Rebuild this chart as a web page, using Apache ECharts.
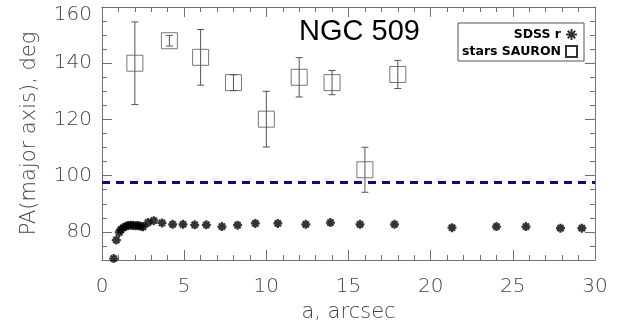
<!DOCTYPE html>
<html>
<head>
<meta charset="utf-8">
<script src="https://cdn.jsdelivr.net/npm/echarts@6/dist/echarts.min.js"></script>
<style>
html,body{margin:0;padding:0;background:#fff;}
#c{width:629px;height:329px;}
</style>
</head>
<body>
<div id="c"></div>
<script>
// ---- data ----
const sdssA  = [0.71,0.87,1.05,1.15,1.3,1.45,1.6,1.75,1.9,2.05,2.2,2.35,2.5,2.8,3.15,3.65,4.3,4.93,5.64,6.35,7.3,8.25,9.33,10.7,12.4,13.9,15.7,17.8,21.3,24.0,25.8,27.9,29.2];
const sdssPA = [70.5,77.1,79.8,80.8,81.5,82.0,82.3,82.4,82.3,82.2,82.3,82.0,81.8,83.3,84.0,83.2,82.7,82.7,82.5,82.5,81.9,82.4,83.0,83.0,82.7,83.3,82.7,82.7,81.5,81.9,81.9,81.3,81.3];
const sauronA   = [2.0, 4.1, 6.0, 8.0, 10.0, 12.0, 14.0, 16.0, 18.0];
const sauronPA  = [140.0, 148.0, 142.1, 133.1, 120.1, 135.0, 133.1, 102.1, 136.0];
const sauronErr = [14.7, 1.9, 9.9, 2.8, 9.9, 7.0, 4.3, 8.0, 5.0];
const dashedPA = [97.6];
const yLabelValues = [80, 100, 120, 140, 160];
const xTickInterval = 5;
const titleText = 'NGC 509';
const xName = 'a, arcsec';
const yName = 'PA(major axis), deg';

const AX = '#707070';
const LAB = '#444';
const FONT = 'DejaVu Sans';
const asterisk = 'path://M5,0L5,10M0,5L10,5M1.6,1.6L8.4,8.4M1.6,8.4L8.4,1.6';

const chart = echarts.init(document.getElementById('c'), null, {renderer:'canvas'});

const labelStyle = {color: LAB, fontFamily: FONT, fontSize: 20, fontWeight: 200};

function xAx(pos, showLabel) {
  return {
    type: 'value', position: pos, min: 0, max: 30, interval: xTickInterval,
    axisLine: {show: true, onZero: false, lineStyle: {color: AX, width: 1}},
    axisTick: {show: true, inside: true, length: 10, lineStyle: {color: AX}},
    minorTick: {show: true, splitNumber: 5, length: 5, lineStyle: {color: AX}},
    splitLine: {show: false}, minorSplitLine: {show: false},
    axisLabel: showLabel ? Object.assign({margin: 17}, labelStyle) : {show: false},
    name: showLabel ? xName : '', nameLocation: 'middle', nameGap: 42,
    nameTextStyle: {color: LAB, fontFamily: FONT, fontSize: 21, fontWeight: 200}
  };
}
function yAx(pos, longTicks, showLabel) {
  const a = {
    type: 'value', position: pos, min: 70, max: 160, interval: 5,
    axisLine: {show: !longTicks, onZero: false, lineStyle: {color: AX, width: 1}},
    axisTick: {show: true, inside: true, length: longTicks ? 10 : 5, lineStyle: {color: AX}},
    splitLine: {show: false},
    axisLabel: {show: false}
  };
  if (longTicks) a.axisTick.customValues = yLabelValues;
  if (showLabel) {
    a.axisLabel = Object.assign({
      show: true, margin: 10, customValues: yLabelValues,
      formatter: v => v === yLabelValues[yLabelValues.length-1] ? '{t|' + v + '}' : String(v),
      rich: {t: Object.assign({padding: [16,0,0,0]}, labelStyle)}
    }, labelStyle);
    a.name = yName; a.nameLocation = 'middle'; a.nameGap = 62;
    a.nameTextStyle = {color: LAB, fontFamily: FONT, fontSize: 21, fontWeight: 200};
  }
  return a;
}

const option = {
  animation: false,
  backgroundColor: '#fff',
  grid: {left: 102, right: 34, top: 7, bottom: 69, containLabel: false},
  xAxis: [xAx('bottom', true), xAx('top', false)],
  yAxis: [yAx('left', false, true), yAx('left', true, false), yAx('right', false, false), yAx('right', true, false)],
  graphic: [{
    type: 'text', left: 299, top: 17, silent: true,
    style: {text: titleText, fontFamily: 'Liberation Sans', fontSize: 29, fill: '#000'}
  }],
  legend: {
    orient: 'vertical', left: 458, top: 23, align: 'right',
    padding: [5, 6, 3, 3], itemGap: 4, itemWidth: 11, itemHeight: 11,
    borderColor: '#555', borderWidth: 1, backgroundColor: '#fff',
    selectedMode: false,
    formatter: n => '{a|' + n + '}',
    textStyle: {rich: {a: {width: 100, align: 'right', fontSize: 12.5, fontWeight: 'bold', fontFamily: FONT, color: '#000', lineHeight: 14}}},
    data: [
      {name: 'SDSS r', icon: asterisk, itemStyle: {color: '#000', borderColor: '#000', borderWidth: 2}},
      {name: 'stars SAURON', icon: 'rect', itemStyle: {color: 'rgba(0,0,0,0)', borderColor: '#000', borderWidth: 2}}
    ]
  },
  series: [
    {
      name: 'errbars', type: 'custom', xAxisIndex: 0, yAxisIndex: 0,
      data: sauronA.map((a, i) => [a, sauronPA[i], sauronErr[i]]),
      encode: {x: 0, y: 1},
      renderItem: (params, api) => {
        const x = api.value(0), y = api.value(1), e = api.value(2);
        const t = api.coord([x, y + e]), b = api.coord([x, y - e]);
        const cw = 3.5, st = {stroke: '#555', lineWidth: 1};
        return {type: 'group', children: [
          {type: 'line', shape: {x1: t[0], y1: t[1], x2: b[0], y2: b[1]}, style: st},
          {type: 'line', shape: {x1: t[0]-cw, y1: t[1], x2: t[0]+cw, y2: t[1]}, style: st},
          {type: 'line', shape: {x1: b[0]-cw, y1: b[1], x2: b[0]+cw, y2: b[1]}, style: st}
        ]};
      },
      silent: true, z: 2
    },
    {
      name: 'stars SAURON', type: 'scatter', xAxisIndex: 0, yAxisIndex: 0,
      data: sauronA.map((a, i) => [a, sauronPA[i]]),
      symbol: 'rect', symbolSize: 16,
      itemStyle: {color: 'rgba(0,0,0,0)', borderColor: '#555', borderWidth: 1},
      silent: true, z: 3
    },
    {
      name: 'SDSS r', type: 'scatter', xAxisIndex: 0, yAxisIndex: 0,
      data: sdssA.map((a, i) => [a, sdssPA[i]]),
      symbol: asterisk, symbolSize: 9,
      itemStyle: {color: '#000', borderColor: '#000', borderWidth: 2.3},
      silent: true, z: 3,
      markLine: {
        silent: true, symbol: 'none', label: {show: false},
        lineStyle: {color: '#0b0b8c', width: 3, type: [8, 6]},
        data: dashedPA.map(v => ({yAxis: v}))
      }
    }
  ]
};
chart.setOption(option);
</script>
</body>
</html>
